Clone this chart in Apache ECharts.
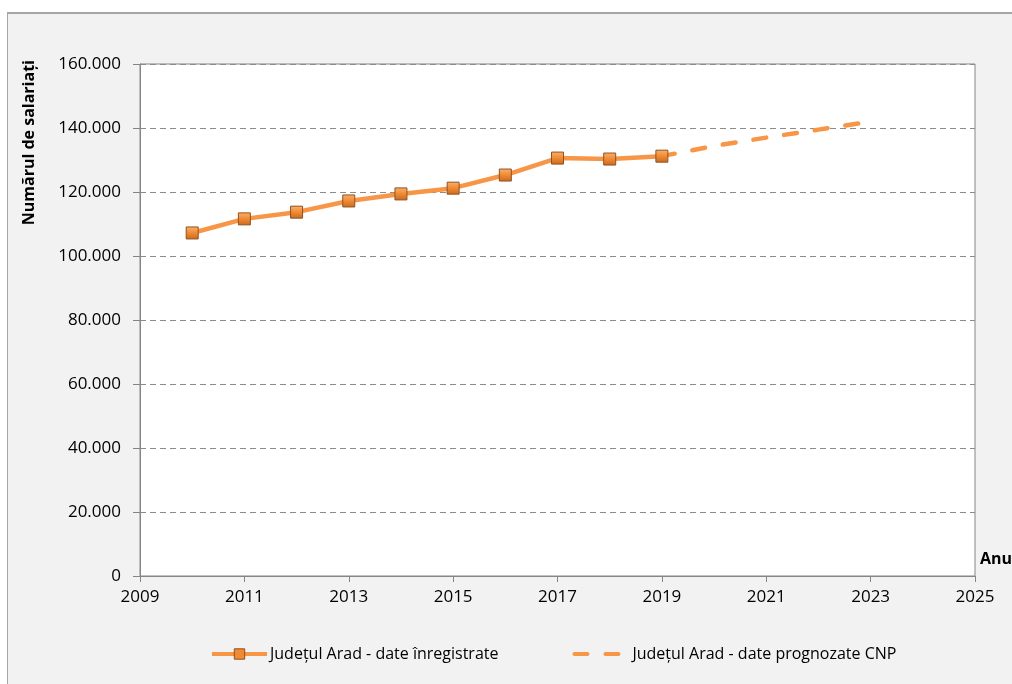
<!DOCTYPE html>
<html>
<head>
<meta charset="utf-8">
<script src="https://cdn.jsdelivr.net/npm/echarts@6/dist/echarts.min.js"></script>
<style>
html,body{margin:0;padding:0;background:#ffffff;}
#frame{position:absolute;left:7px;top:12px;width:1100px;height:800px;background:#f2f2f2;border-left:1px solid #a6a6a6;border-top:2px solid #a6a6a6;}
#chart{position:absolute;left:0;top:0;width:1012px;height:684px;}
</style>
</head>
<body>
<div id="frame"></div>
<div id="chart"></div>
<script>
// ---- data ----
const years = [2010, 2011, 2012, 2013, 2014, 2015, 2016, 2017, 2018, 2019];
const recorded = [107200, 111600, 113700, 117200, 119400, 121200, 125300, 130600, 130300, 131200];
const forecastYears = [2019, 2020, 2021, 2022, 2023];
const forecastValues = [131200, 134400, 137000, 139500, 142000];
const seriesNames = ['Județul Arad - date înregistrate', 'Județul Arad - date prognozate CNP'];
const yAxisTitle = 'Numărul de salariați';
const xAxisTitle = 'Anul';

const FONT = 'Open Sans';
const chart = echarts.init(document.getElementById('chart'), null, {renderer: 'canvas'});

function fmt(v) {
  return String(v).replace(/\B(?=(\d{3})+(?!\d))/g, '.');
}

const orange = '#f79646';
const markerFill = new echarts.graphic.LinearGradient(0, 0, 0, 1, [
  {offset: 0, color: '#fbb26c'},
  {offset: 0.5, color: '#f08a35'},
  {offset: 1, color: '#c8691f'}
]);
const option = {
  backgroundColor: 'transparent',
  animation: false,
  textStyle: {fontFamily: FONT, color: '#000'},
  grid: {
    left: 140, top: 64, right: 37, bottom: 108,
    show: true, backgroundColor: '#ffffff', borderColor: '#868686', borderWidth: 1
  },
  xAxis: {
    type: 'value', min: 2009, max: 2025, interval: 2,
    axisLine: {lineStyle: {color: '#868686', width: 1}},
    axisTick: {show: true, length: 6, lineStyle: {color: '#868686'}},
    axisLabel: {fontFamily: FONT, fontSize: 17, color: '#000', margin: 13, formatter: v => String(v)},
    splitLine: {show: false}
  },
  yAxis: {
    type: 'value', min: 0, max: 160000, interval: 20000,
    axisLine: {show: true, lineStyle: {color: '#868686', width: 1}},
    axisTick: {show: true, length: 7, lineStyle: {color: '#868686'}},
    axisLabel: {fontFamily: FONT, fontSize: 17, color: '#000', margin: 19, formatter: fmt},
    splitLine: {show: true, lineStyle: {color: '#8c8c8c', type: [6, 4], width: 1}}
  },
  legend: {
    left: 205, top: 641,
    itemWidth: 55, itemHeight: 13, itemGap: 74,
    textStyle: {fontFamily: FONT, fontSize: 16, color: '#000', padding: [0, 0, 0, -2]},
    lineStyle: {width: 4},
    data: [
      {name: seriesNames[0], itemStyle: {color: '#f08a35', borderColor: '#8f5220', borderWidth: 1}},
      {name: seriesNames[1], itemStyle: {color: 'rgba(0,0,0,0)', borderWidth: 0, opacity: 0}}
    ]
  },
  graphic: [
    {
      type: 'text', left: 21, top: 60, rotation: Math.PI / 2,
      style: {text: yAxisTitle, fontFamily: FONT, fontSize: 16, fontWeight: 'bold', fill: '#000'}
    },
    {
      type: 'text', left: 980, top: 551,
      style: {text: xAxisTitle, fontFamily: FONT, fontSize: 16, fontWeight: 'bold', fill: '#000'}
    }
  ],
  series: [
    {
      name: seriesNames[1], type: 'line',
      data: forecastYears.map((y, i) => [y, forecastValues[i]]),
      symbol: 'none',
      lineStyle: {color: orange, width: 4.5, type: [13, 18], cap: 'round'},
      itemStyle: {color: orange},
      z: 2
    },
    {
      name: seriesNames[0], type: 'line',
      data: years.map((y, i) => [y, recorded[i]]),
      symbol: 'rect', symbolSize: 12,
      lineStyle: {color: orange, width: 4.5},
      itemStyle: {color: markerFill, borderColor: '#8f5220', borderWidth: 1},
      z: 3
    }
  ]
};
chart.setOption(option);
</script>
</body>
</html>
